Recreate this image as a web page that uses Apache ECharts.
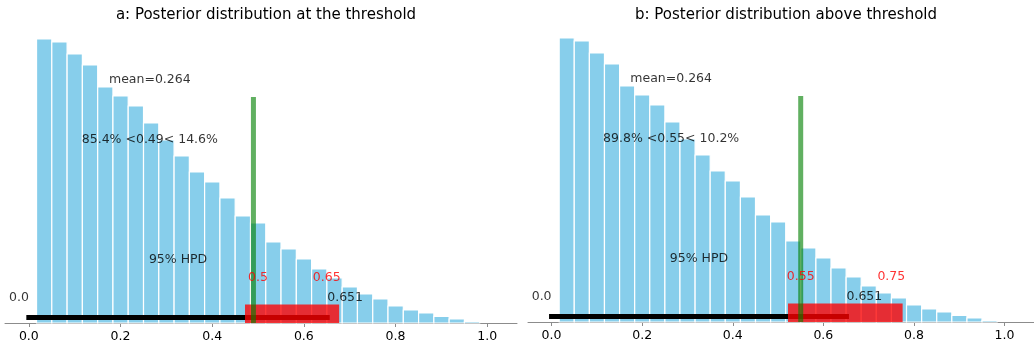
<!DOCTYPE html>
<html>
<head>
<meta charset="utf-8">
<script src="https://cdn.jsdelivr.net/npm/echarts@6/dist/echarts.min.js"></script>
<style>
  html, body { margin: 0; padding: 0; background: #fff; }
  #chart { width: 1034px; height: 347px; }
</style>
</head>
<body>
<div id="chart"></div>
<script>
// histogram of posterior samples (same draws in both panels)
const binEdges = [0.0168, 0.0501, 0.0835, 0.1168, 0.1502, 0.1835, 0.2168, 0.2502, 0.2835, 0.3169,
    0.3502, 0.3835, 0.4169, 0.4502, 0.4836, 0.5169, 0.5502, 0.5836, 0.6169, 0.6503,
    0.6836, 0.7169, 0.7503, 0.7836, 0.8170, 0.8503, 0.8836, 0.9170, 0.9503, 0.9837];
const counts = [284, 281, 269, 258, 236, 227, 217, 200, 183, 167, 151, 141, 125, 107, 100,
    81, 74, 64, 54, 45, 36, 29, 24, 17, 13, 10, 6.5, 4, 1.7];
const tickValues = [0, 0.2, 0.4, 0.6, 0.8, 1.0];

const meanValue = 0.264;
const hpd = [0, 0.651];
const titles = ['a: Posterior distribution at the threshold', 'b: Posterior distribution above threshold'];
const thresholds = [0.49, 0.55];
const probTexts = ['85.4% <0.49< 14.6%', '89.8% <0.55< 10.2%'];
const ropeLabels = [[0.5, 0.65], [0.55, 0.75]];
const ropeRects = [[0.4716, 0.677], [0.522, 0.775]];

const chart = echarts.init(document.getElementById('chart'));
const font = 'DejaVu Sans';
const grids = [
    { left: 5, top: 23, width: 512, height: 300 },
    { left: 528, top: 22, width: 512, height: 300 }
];

const histData = counts.map((c, i) => [binEdges[i], binEdges[i + 1], c]);

function textPoint(x, y, text, opts) {
    return {
        value: [x, y],
        label: Object.assign({ show: true, formatter: text, position: 'inside', fontSize: 12.5,
            fontFamily: font, color: '#000', textBorderWidth: 0 }, opts || {})
    };
}

const series = [];
[0, 1].forEach(k => {
    series.push({
        type: 'custom', xAxisIndex: k, yAxisIndex: k, z: 1,
        data: histData,
        encode: { x: [0, 1], y: 2 },
        renderItem: (params, api) => {
            const p0 = api.coord([api.value(0), 0]);
            const p1 = api.coord([api.value(1), api.value(2)]);
            return {
                type: 'rect',
                shape: { x: p0[0], y: p1[1], width: p1[0] - p0[0], height: p0[1] - p1[1] },
                style: { fill: '#87CEEB', stroke: '#fff', lineWidth: 1.2 }
            };
        }
    });
    // HPD line
    series.push({
        type: 'line', xAxisIndex: k, yAxisIndex: k, z: 2, symbol: 'none', silent: true,
        data: [[hpd[0], 5.5], [hpd[1], 5.5]],
        lineStyle: { color: '#000', width: 5, cap: 'square' }
    });
    // ROPE rect
    series.push({
        type: 'custom', xAxisIndex: k, yAxisIndex: k, z: 3,
        data: [[ropeRects[k][0], ropeRects[k][1], 0, 18.5]],
        encode: { x: [0, 1], y: [2, 3] },
        renderItem: (params, api) => {
            const p0 = api.coord([api.value(0), api.value(2)]);
            const p1 = api.coord([api.value(1), api.value(3)]);
            return {
                type: 'rect',
                shape: { x: p0[0], y: p1[1], width: p1[0] - p0[0], height: p0[1] - p1[1] },
                style: { fill: 'rgba(255,0,0,0.78)' }
            };
        }
    });
    // threshold line
    series.push({
        type: 'line', xAxisIndex: k, yAxisIndex: k, z: 4, symbol: 'none', silent: true,
        data: [[thresholds[k], 0], [thresholds[k], 226]],
        lineStyle: { color: 'rgba(0,128,0,0.62)', width: 5 }
    });
    // annotations
    series.push({
        type: 'scatter', xAxisIndex: k, yAxisIndex: k, z: 5, symbolSize: 0, silent: true,
        data: [
            textPoint(meanValue, 243, 'mean=' + meanValue),
            textPoint(meanValue, 183, probTexts[k]),
            textPoint((hpd[0] + hpd[1]) / 2, 63.5, '95% HPD'),
            textPoint(hpd[0], 25.5, hpd[0].toFixed(1), { align: 'right' }),
            textPoint(hpd[1], 25.5, String(hpd[1]), { align: 'left' }),
            textPoint(ropeLabels[k][0], 45, String(ropeLabels[k][0]), { color: '#ff0000' }),
            textPoint(ropeLabels[k][1], 45, String(ropeLabels[k][1]), { color: '#ff0000' })
        ]
    });
});

chart.setOption({
    animation: false,
    title: titles.map((t, k) => ({
        text: t,
        left: grids[k].left + grids[k].width / 2 - (k === 1 ? 3 : 0),
        textAlign: 'center',
        top: 3,
        textStyle: { fontFamily: font, fontSize: 15, fontWeight: 'normal', color: '#000' }
    })),
    grid: grids,
    xAxis: [0, 1].map(k => ({
        type: 'value', gridIndex: k, min: -0.052, max: 1.065,
        axisLine: { show: true, lineStyle: { color: '#8c8c8c', width: 1 } },
        axisTick: { show: true, length: 4, customValues: tickValues, lineStyle: { color: '#8c8c8c' } },
        axisLabel: { customValues: tickValues, formatter: v => v.toFixed(1), margin: 7,
            fontFamily: font, fontSize: 12.5, color: '#000' },
        splitLine: { show: false }
    })),
    yAxis: [0, 1].map(k => ({
        type: 'value', gridIndex: k, min: 0, max: 300, show: false
    })),
    series: series
});
</script>
</body>
</html>
